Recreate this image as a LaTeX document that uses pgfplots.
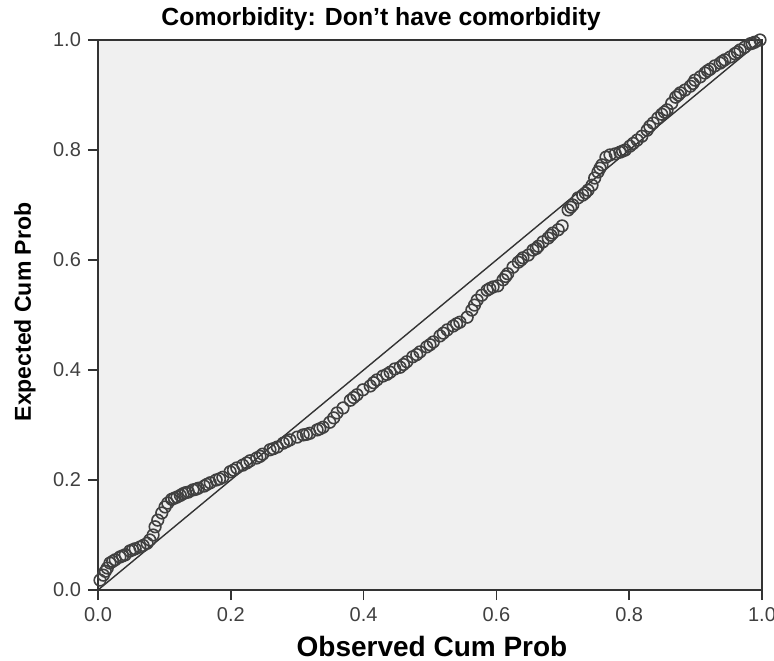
\documentclass[border=0pt]{standalone}
\usepackage{pgfplots}
\pgfplotsset{compat=1.18}
\usepackage{fontspec}
\setmainfont{Liberation Sans}
\definecolor{bgc}{HTML}{F0F0F0}
\definecolor{axc}{HTML}{333333}
\begin{document}
\begin{tikzpicture}
\path[use as bounding box] (-49pt,-35pt) rectangle (338pt,295pt);
\begin{axis}[
  at={(0,0)}, anchor=origin,
  scale only axis, width=332pt, height=275pt,
  xmin=0, xmax=1, ymin=0, ymax=1,
  xtick={0,0.2,...,1.0}, ytick={0,0.2,...,1.0},
  xticklabels={0.0,0.2,0.4,0.6,0.8,1.0},
  yticklabels={0.0,0.2,0.4,0.6,0.8,1.0},
  tick align=outside, major tick length=5pt,
  xtick pos=bottom, ytick pos=left,
  axis line style={axc, line width=0.8pt},
  every tick/.style={axc, line width=0.8pt},
  tick label style={font=\fontsize{10}{12}\selectfont, text=black!75},
  /pgf/number format/assume math mode=true,
  axis background/.style={fill=bgc},
  clip=false,
]
\addplot[axc, line width=0.7pt] coordinates {(0,0) (1,1)};
\addplot[only marks, mark=o, mark size=2.9pt, mark options={draw=black!75, line width=0.8pt}] coordinates {
(0.003,0.018)(0.008,0.027)(0.014,0.040)(0.018,0.049)(0.026,0.055)(0.033,0.060)(0.041,0.064)(0.048,0.071)
(0.056,0.075)(0.063,0.078)(0.074,0.085)(0.078,0.091)(0.083,0.100)(0.086,0.115)(0.090,0.127)(0.096,0.140)
(0.101,0.151)(0.105,0.158)(0.111,0.165)(0.119,0.169)(0.128,0.175)(0.136,0.178)(0.143,0.182)(0.151,0.185)
(0.160,0.189)(0.169,0.195)(0.178,0.200)(0.188,0.205)(0.199,0.215)(0.209,0.222)(0.218,0.227)(0.229,0.235)
(0.239,0.240)(0.248,0.247)(0.259,0.255)(0.270,0.260)(0.279,0.267)(0.289,0.273)(0.300,0.278)(0.309,0.282)
(0.319,0.285)(0.330,0.291)(0.339,0.296)(0.349,0.305)(0.360,0.322)(0.369,0.331)(0.380,0.345)(0.390,0.355)
(0.399,0.364)(0.410,0.371)(0.420,0.382)(0.429,0.389)(0.440,0.396)(0.447,0.402)(0.455,0.405)(0.465,0.415)
(0.474,0.424)(0.485,0.433)(0.495,0.442)(0.505,0.451)(0.515,0.462)(0.526,0.473)(0.535,0.480)(0.545,0.487)
(0.556,0.496)(0.563,0.509)(0.571,0.527)(0.578,0.536)(0.586,0.545)(0.595,0.551)(0.602,0.553)(0.610,0.564)
(0.617,0.575)(0.625,0.587)(0.633,0.596)(0.640,0.604)(0.648,0.609)(0.655,0.618)(0.663,0.625)(0.670,0.633)
(0.678,0.640)(0.685,0.649)(0.693,0.655)(0.699,0.662)(0.708,0.691)(0.715,0.700)(0.723,0.713)(0.730,0.718)
(0.738,0.727)(0.744,0.736)(0.748,0.749)(0.753,0.760)(0.759,0.773)(0.765,0.787)(0.771,0.791)(0.779,0.793)
(0.786,0.796)(0.794,0.800)(0.801,0.807)(0.812,0.818)(0.819,0.825)(0.827,0.836)(0.836,0.849)(0.843,0.858)
(0.849,0.865)(0.857,0.873)(0.864,0.885)(0.870,0.896)(0.877,0.904)(0.884,0.909)(0.892,0.916)(0.899,0.927)
(0.907,0.933)(0.914,0.940)(0.922,0.947)(0.929,0.953)(0.937,0.958)(0.944,0.964)(0.952,0.969)(0.959,0.975)
(0.967,0.982)(0.974,0.987)(0.982,0.993)(0.989,0.996)(0.997,1.000)
(0.011,0.034)(0.022,0.052)(0.037,0.062)(0.052,0.073)(0.068,0.081)(0.115,0.167)(0.124,0.172)(0.132,0.177)
(0.147,0.183)(0.164,0.192)(0.183,0.202)(0.204,0.218)(0.224,0.231)(0.244,0.243)(0.264,0.257)(0.284,0.270)
(0.314,0.283)(0.334,0.293)(0.355,0.313)(0.385,0.350)(0.415,0.377)(0.435,0.392)(0.460,0.410)(0.480,0.428)
(0.500,0.446)(0.520,0.467)(0.540,0.484)(0.567,0.518)(0.590,0.548)(0.614,0.570)(0.637,0.600)(0.660,0.621)
(0.682,0.645)(0.712,0.696)(0.734,0.722)(0.756,0.767)(0.790,0.798)(0.806,0.812)(0.831,0.843)(0.853,0.869)
(0.874,0.900)(0.896,0.921)(0.918,0.944)(0.940,0.961)(0.963,0.978)(0.985,0.994)
};
\end{axis}
\node[anchor=base, font=\bfseries\fontsize{12.4}{14}\selectfont] at (141.5pt,282pt) {Comorbidity: Don't have comorbidity};
\node[font=\bfseries\fontsize{14}{16}\selectfont] at (167pt,-28pt) {Observed Cum Prob};
\node[rotate=90, font=\bfseries\fontsize{11.5}{14}\selectfont] at (-36.5pt,139pt) {Expected Cum Prob};
\end{tikzpicture}
\end{document}
